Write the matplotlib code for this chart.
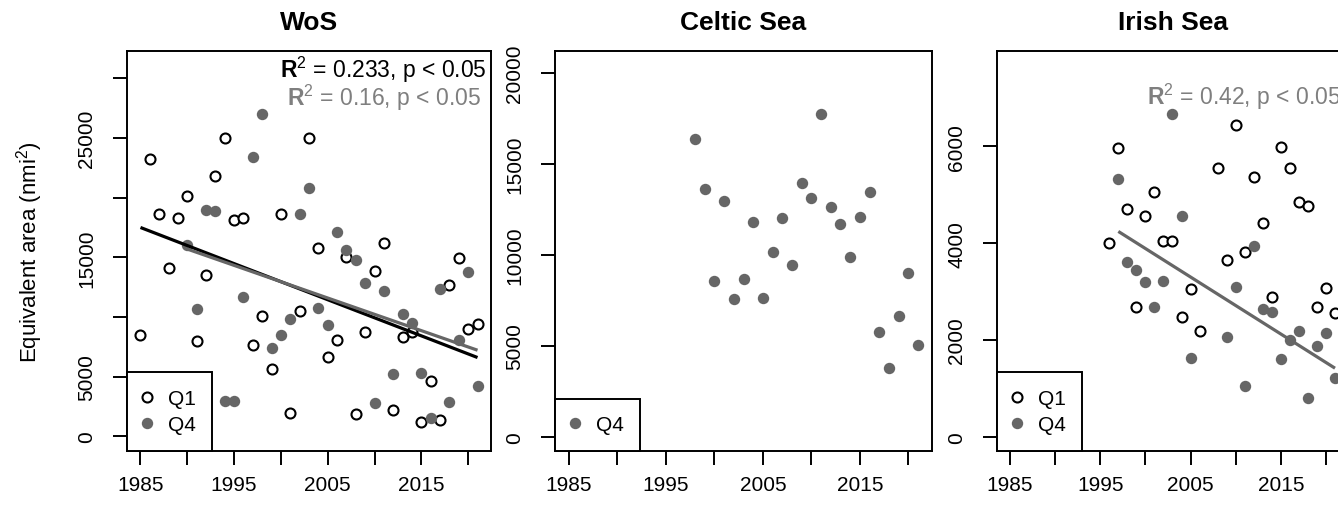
import numpy as np
import matplotlib
matplotlib.use('Agg')
import matplotlib.pyplot as plt

plt.rcParams['font.family'] = ['Liberation Sans', 'DejaVu Sans']
plt.rcParams['mathtext.fontset'] = 'custom'
plt.rcParams['mathtext.rm'] = 'Liberation Sans'
plt.rcParams['mathtext.bf'] = 'Liberation Sans:bold'
plt.rcParams['mathtext.it'] = 'Liberation Sans:italic'

# ---- data ----
# WoS
wos_q1_years = list(range(1985, 2022))
wos_q1 = [8480, 23270, 18610, 14110, 18270, 20120, 8000, 13500, 21840, 24970,
          18110, 18270, 7690, 10070, 5650, 18610, 1940, 10490, 25000, 15790,
          6660, 8050, 15060, 1910, 8750, 13860, 16210, 2220, 8330, 8730,
          1210, 4650, 1380, 12690, 14980, 9030, 9400]
wos_q4_years = list(range(1990, 2022))
wos_q4 = [16010, 10650, 19000, 18860, 3000, 3000, 11710, 23380, 27010, 7390,
          8480, 9870, 18610, 20840, 10740, 9340, 17130, 15620, 14760, 12880,
          2830, 12190, 5260, 10230, 9530, 5320, 1580, 12350, 2890, 8080,
          13750, 4230]

# Celtic Sea
cel_q4_years = list(range(1998, 2022))
cel_q4 = [16340, 13630, 8540, 12970, 7580, 8680, 11810, 7610, 10150, 12020,
          9440, 13960, 13130, 17720, 12640, 11670, 9870, 12090, 13460, 5740,
          3780, 6630, 9010, 5040]

# Irish Sea
iri_q1_years = [1996, 1997, 1998, 1999, 2000, 2001, 2002, 2003, 2004, 2005,
                2006, 2008, 2009, 2010, 2011, 2012, 2013, 2014, 2015, 2016,
                2017, 2018, 2019, 2020, 2021]
iri_q1 = [4000, 5970, 4710, 2690, 4550, 5050, 4040, 4040, 2480, 3050,
          2180, 5550, 3660, 6450, 3810, 5370, 4420, 2890, 5980, 5550,
          4840, 4770, 2690, 3070, 2560]
iri_q4_years = [1997, 1998, 1999, 2000, 2001, 2002, 2003, 2004, 2005, 2009,
                2010, 2011, 2012, 2013, 2014, 2015, 2016, 2017, 2018, 2019,
                2020, 2021]
iri_q4 = [5330, 3600, 3450, 3200, 2690, 3220, 6660, 4550, 1630, 2050,
          3100, 1040, 3950, 2640, 2580, 1610, 2000, 2190, 810, 1870,
          2140, 1210]

titles = ['WoS', 'Celtic Sea', 'Irish Sea']
xticks = list(range(1985, 2025, 5))
xlabels = ['1985', '', '1995', '', '2005', '', '2015', '']

GREY = '#666666'
W, H = 1338, 506
fig = plt.figure(figsize=(W / 100, H / 100), dpi=100)


def box(left, right, top=52, bottom=452):
    return [left / W, 1 - bottom / H, (right - left) / W, (bottom - top) / H]


ax1 = fig.add_axes(box(127, 491))
ax2 = fig.add_axes(box(555, 932))
ax3 = fig.add_axes(box(997, 1348))

q1_style = dict(ls='none', marker='o', ms=7.2, mfc='white', mec='black', mew=1.5)
q4_style = dict(ls='none', marker='o', ms=8.2, mfc=GREY, mec=GREY, mew=0)


def fit_line(ax, years, vals, color):
    years = np.asarray(years, dtype=float)
    b, a = np.polyfit(years, vals, 1)
    xs = np.array([years.min(), years.max()])
    ax.plot(xs, a + b * xs, color=color, lw=2.3, solid_capstyle='butt')


# WoS
ax1.plot(wos_q1_years, wos_q1, label='Q1', **q1_style)
ax1.plot(wos_q4_years, wos_q4, label='Q4', **q4_style)
fit_line(ax1, wos_q1_years, wos_q1, 'black')
fit_line(ax1, wos_q4_years, wos_q4, GREY)
ax1.set_ylim(-1223, 32278)
ax1.set_yticks(range(0, 35000, 5000))
ax1.set_yticklabels(['0', '5000', '', '15000', '', '25000', ''])
ax1.text(0.987, 0.935, r'$\mathbf{R}^{2}$ = 0.233, p < 0.05', transform=ax1.transAxes,
         ha='right', va='baseline', fontsize=16.5, color='black')
ax1.text(0.973, 0.865, r'$\mathbf{R}^{2}$ = 0.16, p < 0.05', transform=ax1.transAxes,
         ha='right', va='baseline', fontsize=16.5, color='#7f7f7f')

# Celtic Sea
ax2.plot(cel_q4_years, cel_q4, label='Q4', **q4_style)
ax2.set_ylim(-786, 21192)
ax2.set_yticks(range(0, 25000, 5000))

# Irish Sea
ax3.plot(iri_q1_years, iri_q1, label='Q1', **q1_style)
ax3.plot(iri_q4_years, iri_q4, label='Q4', **q4_style)
fit_line(ax3, iri_q4_years, iri_q4, GREY)
ax3.set_ylim(-295, 7969)
ax3.set_yticks(range(0, 8000, 2000))
ax3.text(1341 / W, 1 - 105 / H, r'$\mathbf{R}^{2}$ = 0.42, p < 0.05', transform=fig.transFigure,
         ha='right', va='baseline', fontsize=16.5, color='#7f7f7f')

for ax, title in zip([ax1, ax2, ax3], titles):
    ax.set_xlim(1983.56, 2022.44)
    ax.set_xticks(xticks)
    ax.set_xticklabels(xlabels)
    ax.set_title(title, fontsize=19, fontweight='bold', pad=16)
    ax.tick_params(direction='out', length=10, width=1.4, labelsize=15)
    ax.tick_params(axis='x', pad=7)
    ax.tick_params(axis='y', pad=12)
    for lbl in ax.get_yticklabels():
        lbl.set_rotation(90)
        lbl.set_va('center')
    for sp in ax.spines.values():
        sp.set_linewidth(1.4)
    leg = ax.legend(loc='lower left', borderaxespad=0, fancybox=False, framealpha=1,
                    edgecolor='black', fontsize=15, borderpad=0.8, labelspacing=0.35,
                    handlelength=0.3, handletextpad=0.85)
    leg.get_frame().set_linewidth(1.4)

fig.text(30 / W, 1 - 252 / H, 'Equivalent area (nmi$^{2}$)', rotation=90,
         ha='center', va='center', fontsize=16)

fig.savefig('out.png', dpi=100)
